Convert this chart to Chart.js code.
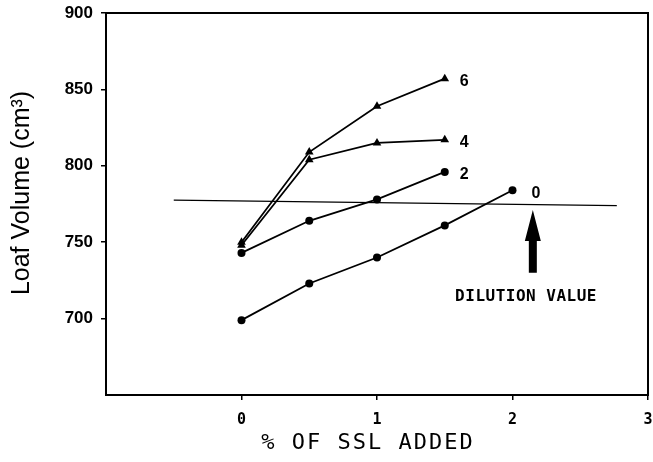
<!DOCTYPE html>
<html>
<head>
<meta charset="utf-8">
<script src="https://cdn.jsdelivr.net/npm/chart.js@4/dist/chart.umd.min.js"></script>
<style>
  html, body { margin: 0; padding: 0; background: #fff; }
  #wrap { width: 653px; height: 462px; }
</style>
</head>
<body>
<div id="wrap"><canvas id="chart" width="653" height="462"></canvas></div>
<script>
// data
const sslShort = [0, 0.5, 1, 1.5];
const sslLong = [0, 0.5, 1, 1.5, 2];
const vol0 = [699, 723, 740, 761, 784];
const vol2 = [743, 764, 778, 796];
const vol4 = [748, 804, 815, 817];
const vol6 = [750, 809, 839, 857];
const seriesNames = ['0', '2', '4', '6'];

const dilutionX = [-0.5, 2.77];
const dilutionY = [777.5, 774];
const arrowX = 2.15;
const arrowTipY = 771;
const arrowTailY = 730;
const noteX = 2.1;
const noteY = 714;

const xTicks = [0, 1, 2, 3];
const yTicks = [700, 750, 800, 850, 900];

const pts = (xs, ys) => ys.map((y, i) => ({ x: xs[i], y }));

function series(label, xs, ys, shape) {
  return {
    label,
    data: pts(xs, ys),
    showLine: true,
    borderColor: '#000',
    backgroundColor: '#000',
    borderWidth: 1.8,
    pointStyle: shape,
    pointRadius: shape === 'triangle' ? 5 : 4,
    pointBorderWidth: 0,
  };
}

const datasets = [
  series(seriesNames[0], sslLong, vol0, 'circle'),
  series(seriesNames[1], sslShort, vol2, 'circle'),
  series(seriesNames[2], sslShort, vol4, 'triangle'),
  series(seriesNames[3], sslShort, vol6, 'triangle'),
  {
    label: 'dilution',
    data: pts(dilutionX, dilutionY),
    showLine: true,
    borderColor: '#000',
    borderWidth: 1.2,
    pointRadius: 0,
  },
];

const extras = {
  id: 'extras',
  afterDatasetsDraw(chart) {
    const { ctx, chartArea: a, scales: { x, y } } = chart;
    ctx.save();

    // box round the plot
    ctx.strokeStyle = '#000';
    ctx.lineWidth = 2;
    ctx.strokeRect(a.left, a.top, a.right - a.left, a.bottom - a.top);

    // series labels at line ends
    ctx.fillStyle = '#000';
    ctx.font = 'bold 16px "Liberation Sans", Arial, sans-serif';
    ctx.textBaseline = 'middle';
    ctx.textAlign = 'left';
    for (let i = 0; i < 4; i++) {
      const d = datasets[i].data;
      const last = d[d.length - 1];
      const off = i === 0 ? 19 : 15;
      ctx.fillText(seriesNames[i], x.getPixelForValue(last.x) + off, y.getPixelForValue(last.y) + 3);
    }

    // arrow
    const ax = x.getPixelForValue(arrowX);
    const tip = y.getPixelForValue(arrowTipY);
    const tail = y.getPixelForValue(arrowTailY);
    const headLen = 31;
    ctx.beginPath();
    ctx.moveTo(ax, tip);
    ctx.lineTo(ax + 8, tip + headLen);
    ctx.lineTo(ax + 4, tip + headLen);
    ctx.lineTo(ax + 4, tail);
    ctx.lineTo(ax - 4, tail);
    ctx.lineTo(ax - 4, tip + headLen);
    ctx.lineTo(ax - 8, tip + headLen);
    ctx.closePath();
    ctx.fill();

    ctx.font = 'bold 16px "DejaVu Sans Mono", monospace';
    ctx.textAlign = 'center';
    ctx.letterSpacing = '0.5px';
    ctx.fillText('DILUTION VALUE', x.getPixelForValue(noteX), y.getPixelForValue(noteY));

    // axis titles
    ctx.letterSpacing = '2px';
    ctx.font = '22px "DejaVu Sans Mono", monospace';
    ctx.fillText('% OF SSL ADDED', 368, 443);

    ctx.letterSpacing = '0px';
    ctx.translate(22, 193);
    ctx.rotate(-Math.PI / 2);
    ctx.font = '25px "Liberation Sans", Arial, sans-serif';
    ctx.fillText('Loaf Volume (cm³)', 0, 0);
    ctx.restore();
  },
};

new Chart(document.getElementById('chart'), {
  type: 'scatter',
  data: { datasets },
  plugins: [extras],
  options: {
    responsive: false,
    animation: false,
    layout: { padding: { top: 13, right: 5, left: 0, bottom: 0 } },
    plugins: { legend: { display: false }, tooltip: { enabled: false } },
    scales: {
      x: {
        type: 'linear',
        min: -1,
        max: 3,
        afterFit: (s) => { s.height = 67; s.paddingLeft = 0; s.paddingRight = 0; },
        afterBuildTicks: (s) => { s.ticks = xTicks.map((v) => ({ value: v })); },
        grid: { drawOnChartArea: false, color: '#000', tickLength: 5, lineWidth: 1.5 },
        border: { display: false },
        ticks: {
          color: '#000',
          padding: 11,
          font: { family: '"DejaVu Sans Mono", monospace', size: 15, weight: 'bold' },
        },
      },
      y: {
        min: 650,
        max: 900,
        afterFit: (s) => { s.width = 106; s.paddingTop = 0; s.paddingBottom = 0; },
        afterBuildTicks: (s) => { s.ticks = yTicks.map((v) => ({ value: v })); },
        grid: { drawOnChartArea: false, color: '#000', tickLength: 5, lineWidth: 1.5 },
        border: { display: false },
        ticks: {
          color: '#000',
          padding: 8,
          font: { family: '"Liberation Sans", Arial, sans-serif', size: 17, weight: 'bold' },
        },
      },
    },
  },
});
</script>
</body>
</html>
